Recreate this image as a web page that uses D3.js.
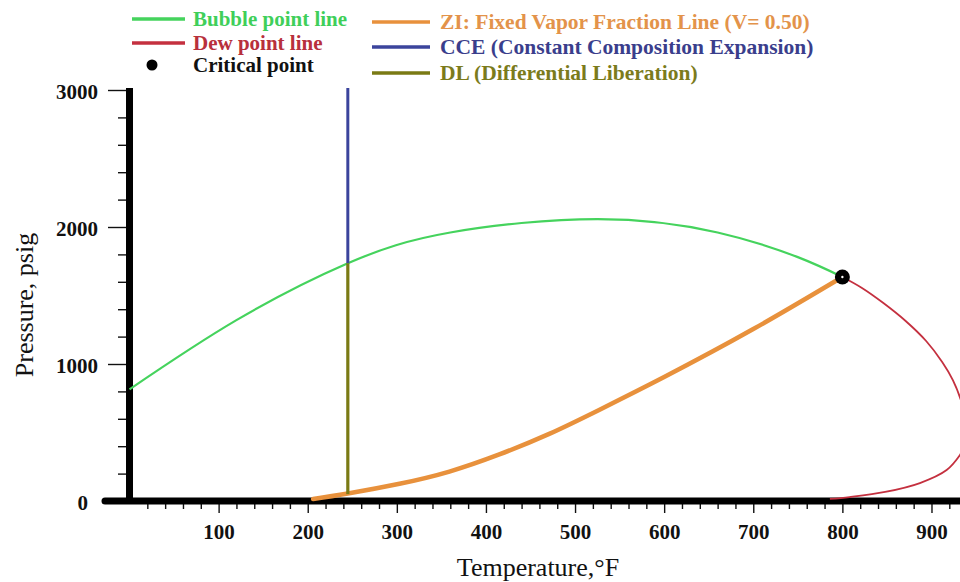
<!DOCTYPE html>
<html>
<head>
<meta charset="utf-8">
<script src="https://cdn.jsdelivr.net/npm/d3@7"></script>
<style>
  body { margin: 0; background: #fff; }
  svg { display: block; font-family: "Liberation Serif", "Times New Roman", serif; }
</style>
</head>
<body>
<svg id="chart" width="960" height="582"></svg>
<script>
// data (temperature in °F, pressure in psig)
var bubbleT = [0, 120, 245, 360, 525, 660, 750, 800];
var bubbleP = [815, 1320, 1735, 1960, 2058, 1960, 1780, 1635];

var dewT = [800, 822, 846, 871, 894, 912, 924, 933, 940, 938, 932, 917, 887, 848, 808, 786];
var dewP = [1635, 1555, 1445, 1314, 1168, 1015, 883, 737, 555, 409, 336, 226, 131, 66, 29, 15];

var ziT = [206, 245, 303, 359, 415, 471, 527, 600, 700, 800];
var ziP = [15, 55, 126, 215, 340, 490, 665, 905, 1255, 1635];

var critical = [800, 1635];
var cceT = 245, ccePTop = 3000, cceP = 1735, dlPBottom = 50;

var tempTicks = [100, 200, 300, 400, 500, 600, 700, 800, 900];
var pressTicks = [0, 1000, 2000, 3000];

var legendLeft = ["Bubble point line", "Dew point line", "Critical point"];
var legendRight = ["ZI: Fixed Vapor Fraction Line (V= 0.50)", "CCE (Constant Composition Expansion)", "DL (Differential Liberation)"];

// colours
var cGreen = "#45d35d", cRed = "#c4303f", cOrange = "#e8913c", cBlue = "#3b449c", cOlive = "#7a7a14";

var svg = d3.select("#chart");

var x = d3.scaleLinear().domain([-27.5, 932]).range([105, 960]);
var y = d3.scaleLinear().domain([0, 3000]).range([501, 90]);

function pts(a, b) { return a.map(function(v, i){ return [v, b[i]]; }); }

var line = d3.line()
    .x(function(d){ return x(d[0]); })
    .y(function(d){ return y(d[1]); });

// ---- axes ----
// minor ticks
var minorX = d3.range(20, 932, 20).filter(function(v){ return v % 100 !== 0; });
svg.append("g")
    .attr("transform", "translate(0,504)")
    .call(d3.axisBottom(x).tickValues(minorX).tickSize(5).tickFormat(""))
    .call(function(g){ g.select(".domain").remove(); });

var minorY = d3.range(200, 3000, 200).filter(function(v){ return v % 1000 !== 0; });
svg.append("g")
    .attr("transform", "translate(126,0)")
    .call(d3.axisLeft(y).tickValues(minorY).tickSize(8).tickFormat(""))
    .call(function(g){ g.select(".domain").remove(); });

var xAxis = svg.append("g")
    .attr("transform", "translate(0,504)")
    .call(d3.axisBottom(x).tickValues(tempTicks).tickSize(9).tickPadding(11).tickFormat(d3.format("d")));
xAxis.select(".domain").remove();

var yAxis = svg.append("g")
    .attr("transform", "translate(126,0)")
    .call(d3.axisLeft(y).tickValues(pressTicks).tickSize(18).tickPadding(10).tickFormat(d3.format("d")));
yAxis.select(".domain").remove();
yAxis.selectAll(".tick").filter(function(d){ return d === 0; }).select("line").remove();
yAxis.selectAll(".tick text").filter(function(d){ return d === 0; }).attr("x", -38);

svg.selectAll(".tick line").attr("stroke", "#111").attr("stroke-width", 1.4);
svg.selectAll(".tick text")
    .attr("font-family", "Liberation Serif, serif")
    .attr("font-weight", "bold")
    .attr("font-size", 21)
    .attr("fill", "#111");
yAxis.selectAll(".tick text").attr("dy", "0.42em");

// thick axis lines
svg.append("line")
    .attr("x1", x(-27.5)).attr("x2", 960)
    .attr("y1", y(0)).attr("y2", y(0))
    .attr("stroke", "#000").attr("stroke-width", 7).attr("stroke-linecap", "round");
svg.append("line")
    .attr("x1", x(0)).attr("x2", x(0))
    .attr("y1", y(3000) - 2).attr("y2", y(0))
    .attr("stroke", "#000").attr("stroke-width", 7);

// axis titles
svg.append("text")
    .attr("x", 538).attr("y", 576)
    .attr("text-anchor", "middle")
    .attr("font-size", 26)
    .attr("fill", "#111")
    .text("Temperature,°F");
svg.append("text")
    .attr("transform", "translate(33,305) rotate(-90)")
    .attr("text-anchor", "middle")
    .attr("font-size", 26)
    .attr("fill", "#111")
    .text("Pressure, psig");

// ---- curves ----
svg.append("path")
    .datum(pts(bubbleT, bubbleP))
    .attr("d", line.curve(d3.curveNatural))
    .attr("fill", "none").attr("stroke", cGreen).attr("stroke-width", 2.2);

svg.append("path")
    .datum(pts(dewT, dewP))
    .attr("d", line.curve(d3.curveCatmullRom.alpha(0.5)))
    .attr("fill", "none").attr("stroke", cRed).attr("stroke-width", 1.8);

svg.append("path")
    .datum(pts(ziT, ziP))
    .attr("d", line.curve(d3.curveNatural))
    .attr("fill", "none").attr("stroke", cOrange).attr("stroke-width", 4.5)
    .attr("stroke-linecap", "round");

// CCE / DL verticals
svg.append("line")
    .attr("x1", x(cceT)).attr("x2", x(cceT))
    .attr("y1", y(ccePTop) - 2).attr("y2", y(cceP))
    .attr("stroke", cBlue).attr("stroke-width", 3);
svg.append("line")
    .attr("x1", x(cceT)).attr("x2", x(cceT))
    .attr("y1", y(cceP)).attr("y2", y(dlPBottom))
    .attr("stroke", cOlive).attr("stroke-width", 3.2);

// critical point
svg.append("circle")
    .attr("cx", x(critical[0])).attr("cy", y(critical[1]))
    .attr("r", 7.5).attr("fill", "#000");
svg.append("circle")
    .attr("cx", x(critical[0])).attr("cy", y(critical[1]))
    .attr("r", 1.2).attr("fill", "#fff");

// ---- legend ----
var legL = svg.append("g");
var legLColors = [cGreen, cRed, "#000"];
var legLText = ["#3fcf5a", "#b8303c", "#111"];
legL.selectAll("g")
    .data(legendLeft)
    .enter().append("g")
    .attr("transform", function(d, i){ return "translate(0," + [19, 43, 65][i] + ")"; })
    .each(function(d, i){
        var g = d3.select(this);
        if (i < 2) {
            g.append("line").attr("x1", 132).attr("x2", 185)
                .attr("stroke", legLColors[i]).attr("stroke-width", 3.5);
        } else {
            g.append("circle").attr("cx", 152).attr("r", 5.5).attr("fill", "#000");
        }
        g.append("text").attr("x", 193).attr("y", 7)
            .attr("font-weight", "bold").attr("font-size", 21)
            .attr("fill", legLText[i]).text(d);
    });

var legR = svg.append("g");
var legRColors = [cOrange, cBlue, cOlive];
var legRText = ["#e3934a", "#3a3e8c", "#7b7b1c"];
legR.selectAll("g")
    .data(legendRight)
    .enter().append("g")
    .attr("transform", function(d, i){ return "translate(0," + [22, 47, 73][i] + ")"; })
    .each(function(d, i){
        var g = d3.select(this);
        g.append("line").attr("x1", 372).attr("x2", 430)
            .attr("stroke", legRColors[i]).attr("stroke-width", 3.5);
        g.append("text").attr("x", 440).attr("y", 7)
            .attr("font-weight", "bold").attr("font-size", 21.5)
            .attr("fill", legRText[i]).text(d);
    });
</script>
</body>
</html>
